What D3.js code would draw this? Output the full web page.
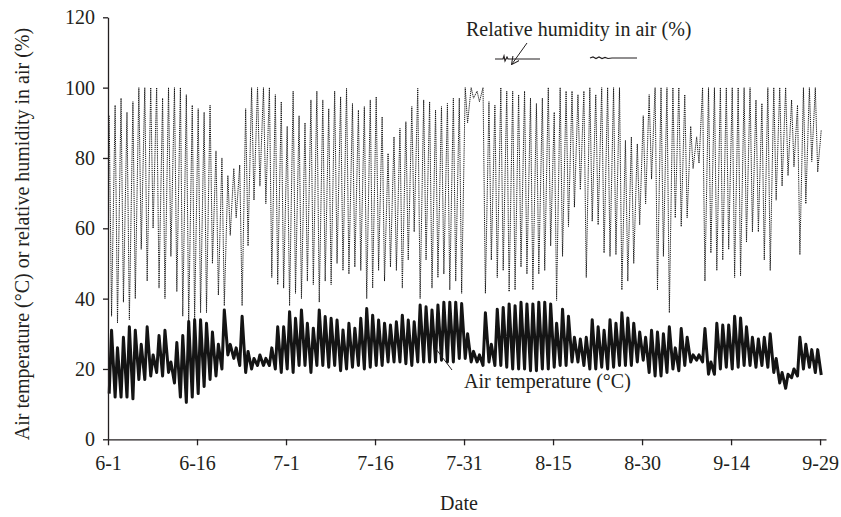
<!DOCTYPE html>
<html><head><meta charset="utf-8">
<script src="https://cdn.jsdelivr.net/npm/d3@7"></script>
<style>
body{margin:0;background:#fff;}
svg text{font-family:"Liberation Serif","Times New Roman",serif;fill:#231f20;}
</style></head><body>
<svg id="chart" width="841" height="517"></svg>
<script>
// ---- data ----
const dateTicks = ["6-1","6-16","7-1","7-16","7-31","8-15","8-30","9-14","9-29"];
const dateTickDays = [0,15,30,45,60,75,90,105,120];
const yTicks = [0,20,40,60,80,100,120];

// daily air temperature max / min (°C), 6-1 .. 9-28
const tMax = [31,26,29,32,31,27,32,24,29.5,31,22,27.5,29.5,33.5,34,34,33,30.5,27,36.8,27,26,35,25,23,24,23,26,32,32,
36.3,34.4,36.8,33,31.6,36.8,34.9,34.4,33.9,31.1,33,31.6,34.4,37.2,35.3,33.9,33,32.5,33.4,35.3,33.9,33.4,38.2,37.7,36.8,38.2,39,39,39,38.6,30,
25,24,36,27,37,37.5,38.5,38,39,38.5,38.5,39,39,38.5,33,37,35,29,28.5,29,34,32,31,34,33,36,34.5,33,30.5,29,
31,30.5,30,32,26,31.5,29,24,24,31.5,22,33,32.5,32.5,35,34.5,32,29,28.5,29,30,23,19,18.5,20,29,27,25.5,25.5];
const tMin = [13,12,12,12,11.5,17,17,18,19,18,19,16,12,10.5,12,13,15,17,18,20,24,23,21,19,20,21,21,21,20,19,
20,19,21,21,19,21,21,20.5,21,19.5,20,20.5,21,20,20.5,21,21,22,22,22,21.5,21,22,22,22,22,22.5,22,22,23,23,
22,22,21,22,21,21,20.5,20,20,20,19.5,19.5,20,20,20.5,21,21,22,22,21,20,20,20.5,20,20.5,21,21,21,22,22.5,
19,18,18,19,20,19.5,21,22,22.5,22,18.5,18.5,20,20.5,20,20.5,21,21,20.5,21,20.5,19,16,14.5,17.5,18,20,20.5,19];
const tEnd = 18.3;

// daily relative humidity max / min (%), 6-1 .. 9-28
const rhMax = [92,95,97,93,96,100,100,100,100,97,100,100,100,98,95,94,93,95,82,80,75,77,78,94,100,100,100,100,98,96,
89,99,92,90,96.5,99,96.5,94,99,97.4,99.8,95.5,93.6,94.6,96.5,97.4,91.7,81.3,86,88.4,90.3,94.6,99.8,96.5,96,93.6,94.6,95.5,97,97,100,
100,99,100,96,95,100,99,99,98,99,97,95.5,97,100,93,100,99,99,98,99,100,98,100,100,100,100,85,86,84,92,
98,100,100,100,100,100,98,89,86,100,100,100,100,100,100,100,100,100,96.5,95.5,100,100,100,100,96.5,95,100,100,100];
const rhMin = [35,33,39,34,40,54,45,60,43,40,52,42,35,33,34,36,36,50,41,38,58,63,38,55,68,72,67,46,44,43,
38,41.5,40,45,44,39,45,44,50,48,47,49,48,40,43,48,45,49,48,43,51,59,40,51,43,46,47,42.5,45,41.5,90,
97,96,41.5,51,46,48,42,42.5,49,47,42.5,47,48,55,39.5,52,60.5,66,71,46,62,61,53,52,52.5,42.5,45,50,61,67,
74,42.5,52,36,63,60.5,63,77,78.5,45,53,48,51,54,46,46.5,56,59,59,51,48,68,72,75,77.5,52.5,67,79,76];
const rhEnd = 88;

// ---- chart ----
const ink = "#231f20";
const svg = d3.select("#chart");
const x = d3.scaleLinear().domain([0,121]).range([108,826]);
const y = d3.scaleLinear().domain([0,120]).range([439.3,17.3]);

// series points: temperature min early morning, max afternoon; humidity the reverse
const tPts = [], rhPts = [];
tMax.forEach((v,i)=>{ tPts.push([i+0.2, tMin[i]]); tPts.push([i+0.6, v]); });
tPts.push([120.2, tEnd]);
rhMax.forEach((v,i)=>{ rhPts.push([i+0.2, v]); rhPts.push([i+0.6, rhMin[i]]); });
rhPts.push([120.2, rhEnd]);

const line = d3.line().x(d=>x(d[0])).y(d=>y(d[1]));

svg.append("path").datum(rhPts)
  .attr("d", line)
  .attr("fill","none").attr("stroke","#111").attr("stroke-width",1)
  .attr("stroke-dasharray","1.2,0.9");

svg.append("path").datum(tPts)
  .attr("d", line)
  .attr("fill","none").attr("stroke","#141414").attr("stroke-width",3)
  .attr("stroke-linejoin","round");

// axes
const gx = svg.append("g").attr("transform",`translate(0,${y(0)})`)
  .call(d3.axisBottom(x).tickValues(dateTickDays).tickFormat((d,i)=>dateTicks[i])
    .tickSizeInner(6).tickSizeOuter(0).tickPadding(11));
const gy = svg.append("g").attr("transform",`translate(${x(0)},0)`)
  .call(d3.axisLeft(y).tickValues(yTicks).tickSizeInner(5).tickSizeOuter(0).tickPadding(8));
[gx,gy].forEach(g=>{
  g.attr("font-family",null).attr("font-size",null);
  g.selectAll(".domain,.tick line").attr("stroke",ink).attr("stroke-width",1.3);
  g.selectAll("text").attr("font-size",20).attr("fill",ink);
});

// titles
svg.append("text").attr("transform","translate(29,234) rotate(-90)")
  .attr("text-anchor","middle").attr("font-size",20)
  .text("Air temperature (°C) or relative humidity in air (%)");
svg.append("text").attr("x",459).attr("y",510).attr("text-anchor","middle")
  .attr("font-size",20).text("Date");

// annotations
svg.append("text").attr("x",466).attr("y",36).attr("font-size",20)
  .text("Relative humidity in air (%)");
svg.append("text").attr("x",464).attr("y",388).attr("font-size",20)
  .text("Air temperature (°C)");
svg.append("line").attr("x1",436).attr("y1",349).attr("x2",452).attr("y2",370)
  .attr("stroke",ink).attr("stroke-width",1);

// humidity legend samples
svg.append("defs").append("marker").attr("id","arr")
  .attr("viewBox","0 0 10 10").attr("refX",9).attr("refY",5)
  .attr("markerWidth",8).attr("markerHeight",8).attr("orient","auto")
  .append("path").attr("d","M0,0 L10,5 L0,10").attr("fill","none")
  .attr("stroke",ink).attr("stroke-width",1.3);
svg.append("path").attr("d","M495,59 L503,59 L504,56 L505,61 L507,57 L508,59 L540,59")
  .attr("fill","none").attr("stroke",ink).attr("stroke-width",1.2);
svg.append("line").attr("x1",527).attr("y1",43).attr("x2",512).attr("y2",64)
  .attr("stroke",ink).attr("stroke-width",1).attr("marker-end","url(#arr)");
svg.append("path").attr("d","M590,58 L593,57 L596,58.5 L599,57 L602,58.5 L605,57.5 L608,58.5 L612,58 L637,58")
  .attr("fill","none").attr("stroke",ink).attr("stroke-width",1.2);
</script>
</body></html>
